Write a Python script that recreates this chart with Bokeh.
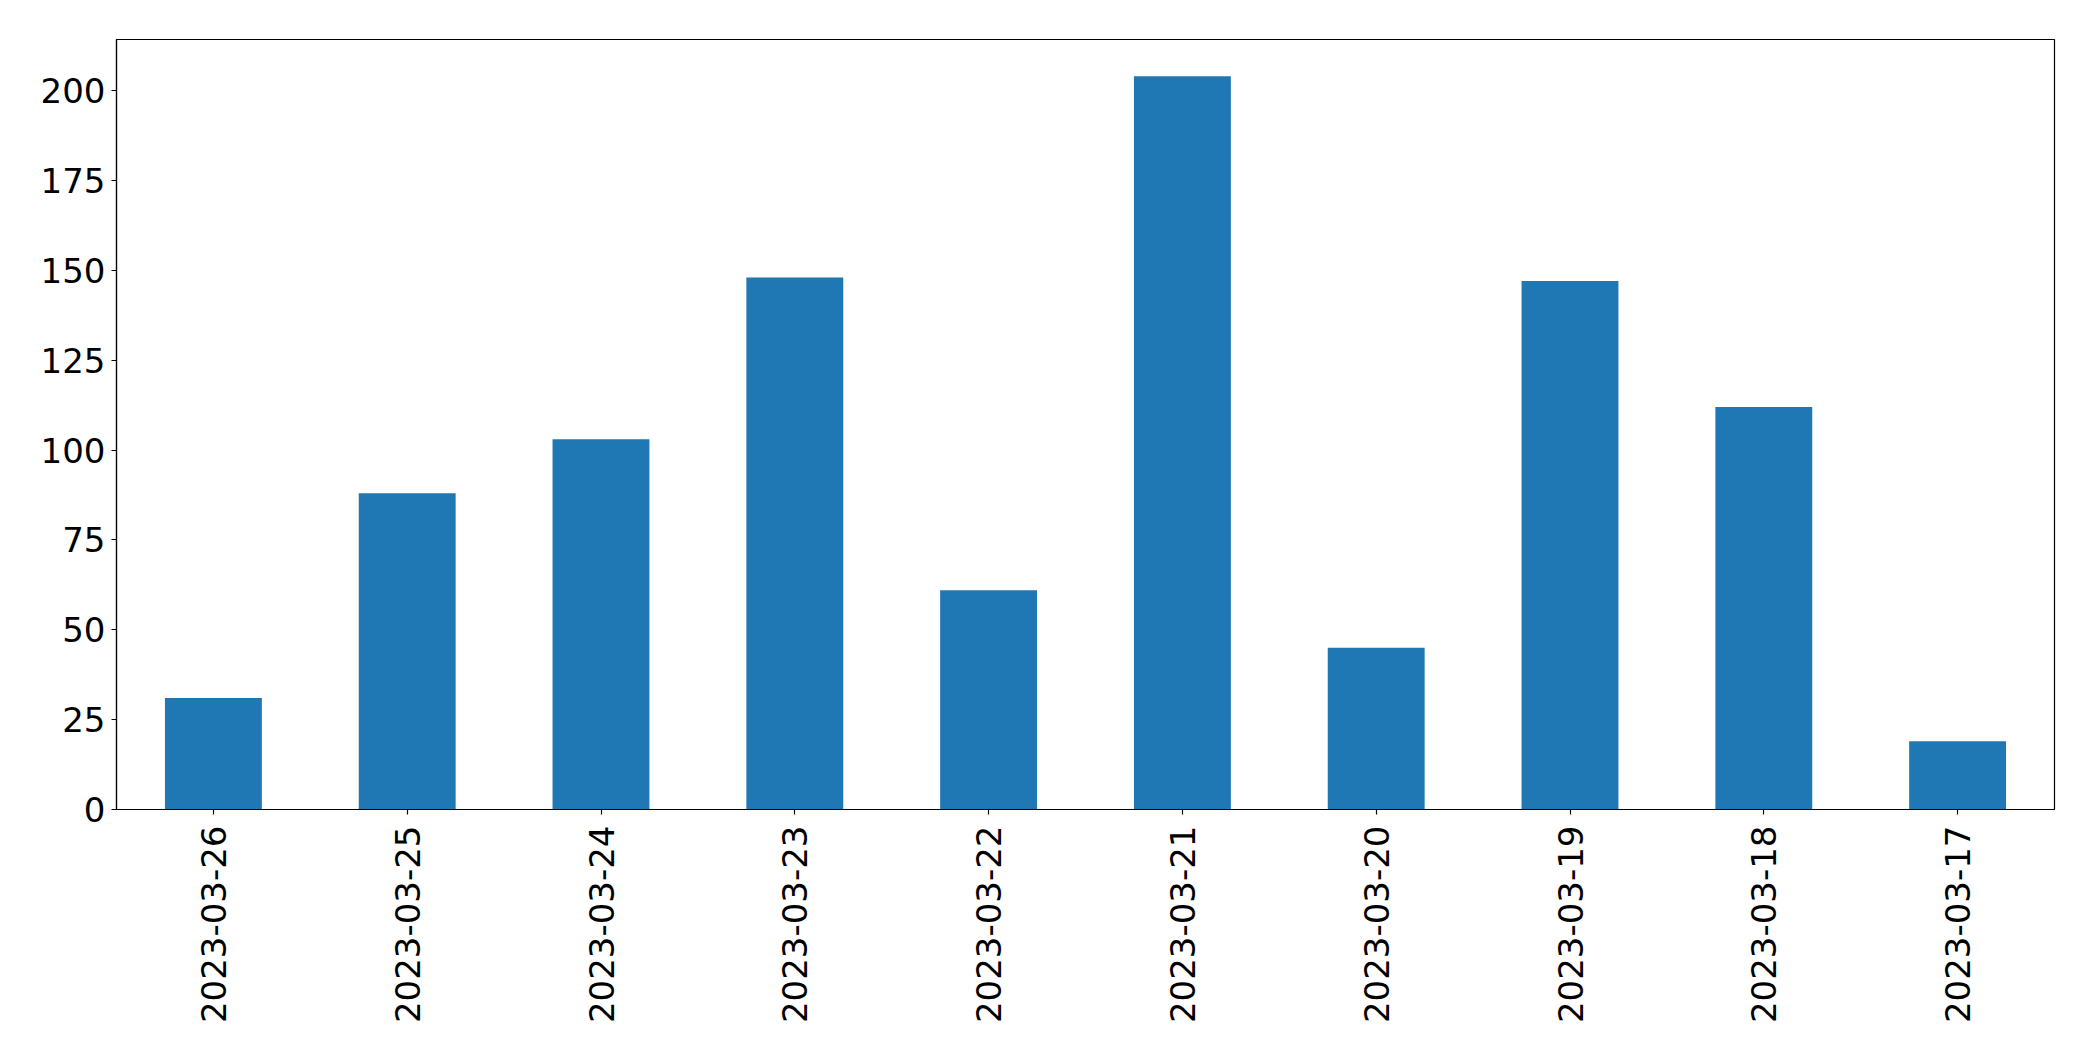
import math
from bokeh.plotting import figure
from bokeh.models import Range1d, FactorRange, FixedTicker
from bokeh.embed import file_html
from bokeh.resources import INLINE

dates = ["2023-03-26", "2023-03-25", "2023-03-24", "2023-03-23", "2023-03-22",
         "2023-03-21", "2023-03-20", "2023-03-19", "2023-03-18", "2023-03-17"]
counts = [31, 88, 103, 148, 61, 204, 45, 147, 112, 19]
y_ticks = [0, 25, 50, 75, 100, 125, 150, 175, 200]

p = figure(x_range=FactorRange(factors=dates, range_padding=0),
           y_range=Range1d(0, max(counts) * 1.05),
           frame_width=1938, frame_height=770,
           min_border_left=116, min_border_right=23,
           min_border_top=39, min_border_bottom=236,
           output_backend="svg", toolbar_location=None)

p.vbar(x=dates, top=counts, width=0.5, fill_color="#1f77b4", line_color=None)

p.xgrid.visible = False
p.ygrid.visible = False
p.outline_line_color = "black"
p.outline_line_width = 1.2
p.outline_line_alpha = 1
p.background_fill_color = "white"
p.border_fill_color = "white"

p.yaxis.ticker = FixedTicker(ticks=y_ticks)
for ax in (p.xaxis[0], p.yaxis[0]):
    ax.axis_line_color = "black"
    ax.axis_line_width = 1.2
    ax.major_tick_line_color = "black"
    ax.major_tick_line_width = 1.2
    ax.major_tick_out = 5
    ax.major_tick_in = 0
    ax.minor_tick_out = 0
    ax.minor_tick_in = 0
    ax.major_label_text_font = "DejaVu Sans"
    ax.major_label_text_font_size = "34px"
    ax.major_label_text_color = "black"

p.yaxis.major_label_standoff = 6
p.xaxis.major_label_standoff = 11
p.xaxis.major_label_orientation = math.pi / 2

open("out.html", "w").write(file_html(p, INLINE))
